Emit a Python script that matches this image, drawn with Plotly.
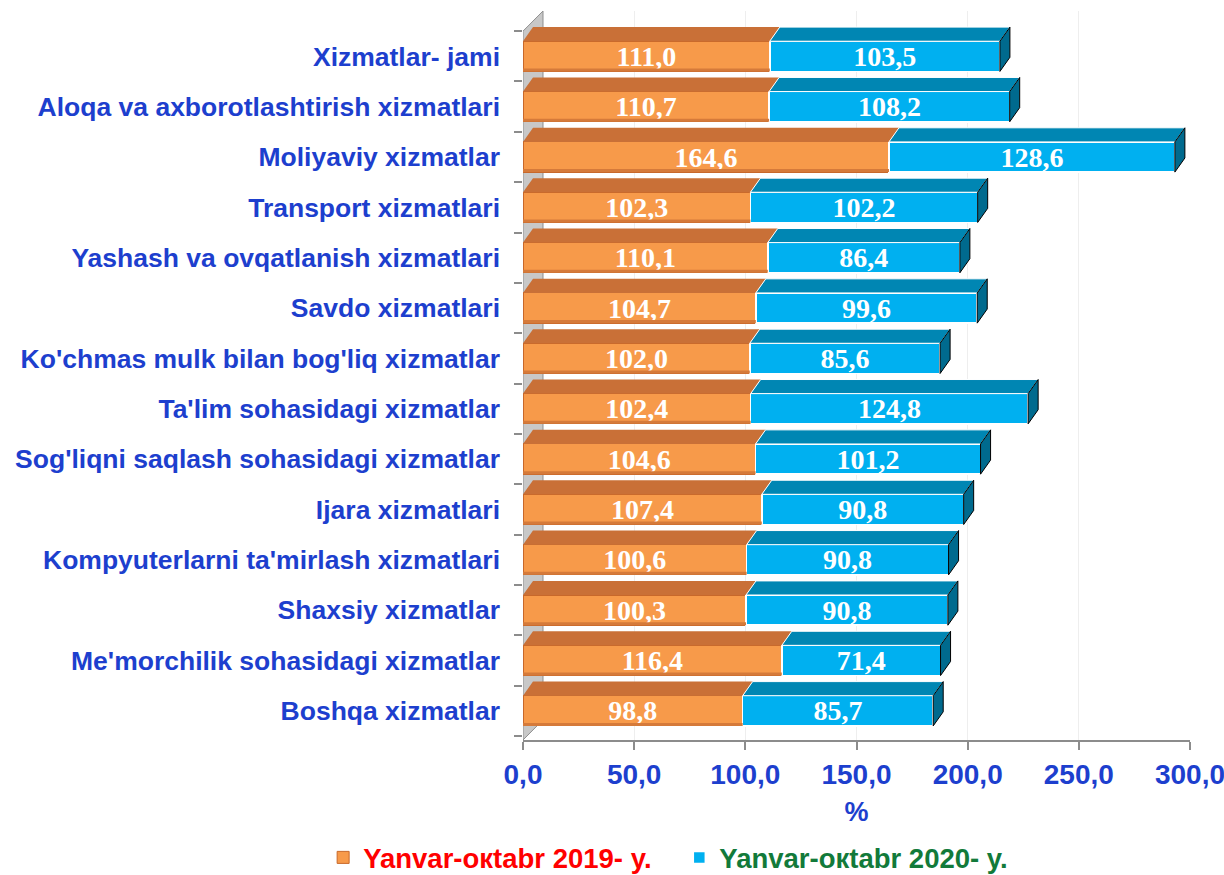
import plotly.graph_objects as go

categories = [
    "Boshqa xizmatlar",
    "Me'morchilik sohasidagi xizmatlar",
    "Shaxsiy xizmatlar",
    "Kompyuterlarni ta'mirlash xizmatlari",
    "Ijara xizmatlari",
    "Sog'liqni saqlash sohasidagi xizmatlar",
    "Ta'lim sohasidagi xizmatlar",
    "Ko'chmas mulk bilan bog'liq xizmatlar",
    "Savdo xizmatlari",
    "Yashash va ovqatlanish xizmatlari",
    "Transport xizmatlari",
    "Moliyaviy xizmatlar",
    "Aloqa va axborotlashtirish xizmatlari",
    "Xizmatlar- jami",
]
values_2019 = [98.8, 116.4, 100.3, 100.6, 107.4, 104.6, 102.4, 102.0, 104.7, 110.1, 102.3, 164.6, 110.7, 111.0]
values_2020 = [85.7, 71.4, 90.8, 90.8, 90.8, 101.2, 124.8, 85.6, 99.6, 86.4, 102.2, 128.6, 108.2, 103.5]
tick_vals = [0, 50, 100, 150, 200, 250, 300]

name_2019 = "<b><span style='color:#FF0000'>Yanvar-oкtabr 2019- y.</span></b>"
name_2020 = "<b><span style='color:#127A3A'>Yanvar-oкtabr 2020- y.</span></b>"

BLUE = "#1d3fce"
bar_w = 0.6
dx, dy = 4.5, 0.28
y_lo, y_hi = -0.58, 13.9

fig = go.Figure()
fig.add_trace(go.Bar(
    y=categories, x=values_2019, orientation="h", name=name_2019,
    marker=dict(color="#F79A4A", line=dict(color="#C8682A", width=1)),
    width=bar_w, legend="legend",
    texttemplate="<b>%{x:.1f}</b>", textposition="inside", insidetextanchor="middle",
    textfont=dict(family="Liberation Serif", size=28, color="white"),
    constraintext="none",
))
fig.add_trace(go.Bar(
    y=categories, x=values_2020, orientation="h", name=name_2020,
    marker=dict(color="#00B0F0", line=dict(color="white", width=1.5)),
    width=bar_w, legend="legend2",
    texttemplate="<b>%{x:.1f}</b>", textposition="inside", insidetextanchor="middle",
    textfont=dict(family="Liberation Serif", size=28, color="white"),
    constraintext="none",
))

shapes = []
# left side wall
wdx, wdy = 9.0, 0.4
shapes.append(dict(type="path", xref="x", yref="y",
                   path=f"M 0,{y_lo} L {wdx},{y_lo+wdy} L {wdx},{y_hi} L 0,{y_hi-wdy} Z",
                   fillcolor="#C8C8C8", line=dict(color="#8F8F8F", width=1), layer="below"))
for i, (a, b) in enumerate(zip(values_2019, values_2020)):
    top = i + bar_w / 2
    bot = i - bar_w / 2
    end = a + b
    # orange shading at bottom of front face
    shapes.append(dict(type="rect", xref="x", yref="y",
                       x0=0, x1=a, y0=bot, y1=bot + 0.06,
                       fillcolor="#D57A3A", line=dict(width=0), layer="above"))
    # orange top face
    shapes.append(dict(type="path", xref="x", yref="y",
                       path=f"M 0,{top} L {dx},{top+dy} L {a+dx},{top+dy} L {a},{top} Z",
                       fillcolor="#C97037", line=dict(width=0), layer="above"))
    # blue top face
    shapes.append(dict(type="path", xref="x", yref="y",
                       path=f"M {a},{top} L {a+dx},{top+dy} L {end+dx},{top+dy} L {end},{top} Z",
                       fillcolor="#0086B3", line=dict(color="white", width=1), layer="above"))
    # blue side face
    shapes.append(dict(type="path", xref="x", yref="y",
                       path=f"M {end},{bot} L {end},{top} L {end+dx},{top+dy} L {end+dx},{bot+dy} Z",
                       fillcolor="#006A8E", line=dict(color="black", width=1), layer="above"))

legend_font = dict(family="Liberation Sans Narrow, Liberation Sans", size=27.5)
fig.update_layout(
    barmode="stack",
    width=1224, height=875,
    margin=dict(l=523, r=34, t=11, b=135),
    paper_bgcolor="white", plot_bgcolor="white",
    separators=", ",
    shapes=shapes,
    showlegend=True,
    legend=dict(orientation="h", xref="container", yref="container",
                x=0.264, y=0.02, xanchor="left", yanchor="middle",
                font=legend_font, itemwidth=30),
    legend2=dict(orientation="h", xref="container", yref="container",
                 x=0.555, y=0.02, xanchor="left", yanchor="middle",
                 font=legend_font, itemwidth=30),
    font=dict(family="Liberation Sans", color=BLUE),
)
fig.update_xaxes(
    range=[0, 300], tickvals=tick_vals,
    ticktext=[f"<b>{v:.1f}</b>".replace(".", ",") for v in tick_vals],
    showgrid=True, gridcolor="#EEEEEE", gridwidth=1,
    showline=True, linecolor="#8C8C8C", linewidth=2,
    ticks="outside", ticklen=8, tickcolor="#8C8C8C", tickwidth=2,
    tickfont=dict(family="Liberation Sans", size=28, color=BLUE),
    ticklabeloverflow="allow",
    title=dict(text="<b>%</b>", font=dict(size=27, color=BLUE), standoff=14),
    zeroline=False, automargin=False,
)
fig.update_yaxes(
    categoryorder="array", categoryarray=categories,
    tickvals=categories, ticktext=[f"<b>{c}</b>" for c in categories],
    range=[y_lo, y_hi],
    showline=False,
    ticks="outside", ticklen=8, tickcolor="#8C8C8C", tickwidth=1.5,
    tickson="boundaries", ticklabelstandoff=22,
    tickfont=dict(family="Liberation Sans", size=26.5, color=BLUE),
    showgrid=False, automargin=False,
)

fig.write_html("out.html", config={"displayModeBar": False},
               post_script="document.body.style.margin='0px';")
